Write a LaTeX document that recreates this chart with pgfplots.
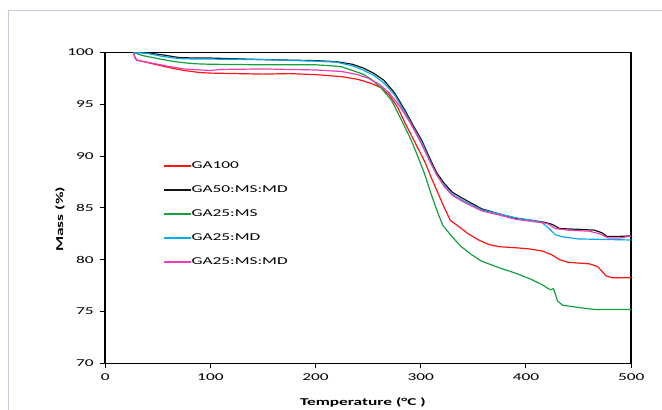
\documentclass[border=0pt]{standalone}
\usepackage{fontspec}
\setmainfont{Carlito}[FakeStretch=1.65]
\usepackage{pgfplots}
\pgfplotsset{compat=1.18}

\definecolor{cRed}{RGB}{255,20,20}
\definecolor{cBlack}{RGB}{20,20,20}
\definecolor{cGreen}{RGB}{20,160,60}
\definecolor{cBlue}{RGB}{0,170,235}
\definecolor{cPink}{RGB}{240,60,180}
\definecolor{frame}{RGB}{200,200,225}

\begin{document}
\begin{tikzpicture}[x=1pt,y=1pt]
\path[use as bounding box] (0,0) rectangle (662,410);
\draw[frame, line width=1pt] (8,-5) -- (8,399) -- (670,399);
\begin{axis}[
  at={(100,45)}, anchor=origin,
  scale only axis,
  width=526pt, height=311pt,
  xmin=0, xmax=500, ymin=70, ymax=100,
  xtick={0,100,...,500},
  ytick={70,75,...,100},
  tick pos=left,
  tick align=outside,
  major tick length=5pt,
  every tick/.style={black, line width=1pt},
  axis line style={black, line width=1.4pt},
  font=\fontsize{10.5}{12}\selectfont,
  /pgf/number format/assume math mode=true,
  xticklabel style={yshift=-2pt},
  yticklabel style={xshift=-3pt},
  xlabel={\textbf{Temperature (°C )}},
  ylabel={\textbf{Mass (\%)}},
  xlabel style={at={(axis description cs:0.49,-0.125)}, anchor=center},
  ylabel style={at={(axis description cs:-0.086,0.463)}, anchor=center},
  legend cell align=left,
  legend image code/.code={\draw[#1, line width=1.4pt] (0pt,0pt) -- (27pt,0pt);},
  legend style={draw=none, fill=none, inner sep=0pt,
    at={(axis cs:55,89.5)}, anchor=north west,
    row sep=14.5pt, column sep=0pt,
    nodes={inner sep=0pt, text height=7.5pt, text depth=2pt},
    font=\fontsize{10.5}{12}\selectfont},
  every axis plot/.append style={line width=1.2pt, no markers},
]
\addplot[cRed] coordinates {
(27,100) (28,99.6) (30,99.25) (45,98.9) (60,98.55) (75,98.25) (90,98.05)
(100,98.0) (125,97.95) (150,97.9) (175,97.95) (200,97.85) (225,97.65)
(240,97.4) (253,97.0) (262,96.6) (270,95.9) (278,94.7) (285,93.2)
(292,91.8) (299,90.4) (304,89.4) (310,87.9) (316,86.5) (322,85.1)
(328,83.8) (336,83.2) (345,82.5) (355,81.9) (365,81.45) (375,81.25)
(390,81.15) (402,81.05) (415,80.85) (424,80.5) (432,80.0) (440,79.75)
(460,79.6) (468,79.35) (472,78.9) (476,78.45) (482,78.25) (500,78.25)
};
\addlegendentry{GA100}
\addplot[cBlack] coordinates {
(27,100) (40,99.95) (55,99.75) (70,99.5) (85,99.45) (100,99.45) (150,99.3)
(200,99.2) (220,99.1) (235,98.85) (245,98.5) (255,98.0) (265,97.3)
(275,96.1) (285,94.4) (293,92.9) (301,91.5) (308,89.9) (315,88.4)
(322,87.4) (330,86.5) (340,85.9) (358,84.9) (375,84.4) (390,84.0)
(405,83.8) (418,83.6) (425,83.4) (432,83.0) (445,82.95) (465,82.85)
(472,82.6) (477,82.25) (490,82.25) (500,82.3)
};
\addlegendentry{GA50:MS:MD}
\addplot[cGreen] coordinates {
(27,100) (35,99.7) (50,99.4) (63,99.15) (75,99.0) (85,98.9) (100,98.85)
(150,98.8) (200,98.8) (215,98.7) (225,98.6) (235,98.25) (245,97.9)
(253,97.4) (262,96.6) (272,95.4) (281,93.6) (291,91.5) (297,90.0)
(303.5,88.3) (308,86.9) (313,85.4) (317,84.3) (321,83.3) (329,82.3)
(338,81.3) (348,80.5) (358,79.85) (375,79.2) (390,78.7) (405,78.1)
(415,77.6) (423,77.1) (426,77.2) (427.5,76.8) (430,76.0) (435,75.6)
(453,75.35) (465,75.2) (500,75.2)
};
\addlegendentry{GA25:MS}
\addplot[cBlue] coordinates {
(27,100) (40,99.9) (55,99.6) (70,99.4) (85,99.35) (100,99.35) (150,99.3)
(200,99.15) (220,99.05) (235,98.7) (245,98.3) (255,97.8) (265,97.05)
(275,95.9) (285,94.2) (293,92.7) (301,91.3) (308,89.7) (315,88.2)
(322,87.2) (330,86.3) (340,85.7) (358,84.8) (375,84.4) (390,84.05)
(405,83.8) (415,83.6) (422,83.0) (428,82.4) (435,82.2) (450,82.0)
(500,81.9)
};
\addlegendentry{GA25:MD}
\addplot[cPink] coordinates {
(27,100) (28,99.5) (30,99.25) (45,98.95) (60,98.65) (75,98.4) (90,98.3)
(100,98.25) (110,98.35) (150,98.4) (200,98.3) (225,98.15) (240,97.85)
(250,97.5) (260,96.95) (270,96.1) (280,94.8) (290,93.2) (300,91.3)
(308,89.6) (315,88.2) (322,87.1) (330,86.2) (340,85.6) (358,84.7)
(375,84.3) (390,83.9) (405,83.7) (420,83.5) (428,83.0) (440,82.85)
(460,82.75) (470,82.5) (478,82.1) (490,82.1) (500,82.3)
};
\addlegendentry{GA25:MS:MD}
\end{axis}
\end{tikzpicture}
\end{document}
